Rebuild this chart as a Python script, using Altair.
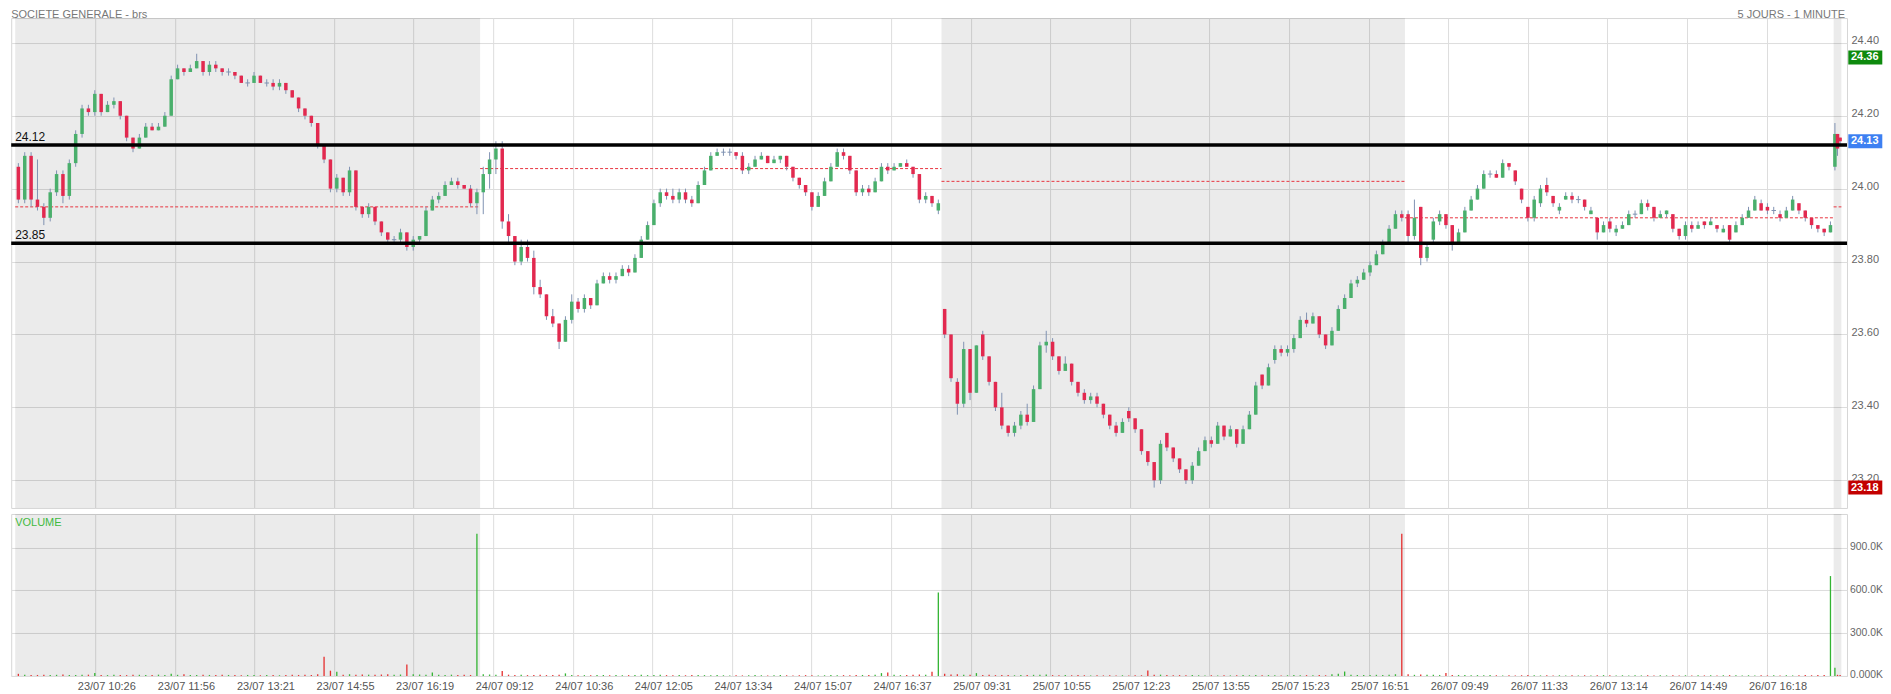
import altair as alt
import pandas as pd

FONT = "Liberation Sans"
TITLE_LEFT = "SOCIETE GENERALE - brs"
TITLE_RIGHT = "5 JOURS - 1 MINUTE"

# sessions, in 1-minute bar units (bar index across the 5 sessions)
session_start_bar = [4.4, 518.5, 1028.7, 1541.2, 2015.2]
session_end_bar = [518.5, 1028.7, 1541.2, 2015.2, 2023.8]
session_shaded = [True, False, True, False, True]
session_ref_price = [23.95, 24.055, 24.02, 23.92, 23.95]

# ---- 23/07 ----
d23_open = [24.06, 23.97, 24.09, 23.97, 23.95, 23.92, 23.99, 24.04, 23.98, 24.07,
            24.15, 24.22, 24.21, 24.26, 24.21, 24.23, 24.24, 24.20, 24.14, 24.11,
            24.14, 24.17, 24.16, 24.17, 24.20, 24.30, 24.33, 24.32, 24.33, 24.35,
            24.32, 24.34, 24.33, 24.32, 24.32, 24.31, 24.29, 24.29, 24.31, 24.29,
            24.29, 24.28, 24.29, 24.27, 24.25, 24.22, 24.20, 24.18, 24.12, 24.08,
            24.00, 24.03, 23.99, 24.05, 23.95, 23.93, 23.95, 23.91, 23.88, 23.86,
            23.86, 23.88, 23.84, 23.86, 23.87, 23.94, 23.97, 23.98, 24.01, 24.02,
            24.01, 24.00, 23.96]
d23_high = [24.07, 24.10, 24.10, 24.08, 23.96, 24.00, 24.05, 24.05, 24.08, 24.16,
            24.23, 24.23, 24.27, 24.26, 24.24, 24.25, 24.24, 24.20, 24.14, 24.15,
            24.18, 24.18, 24.18, 24.21, 24.31, 24.34, 24.33, 24.34, 24.37, 24.35,
            24.35, 24.35, 24.33, 24.33, 24.32, 24.31, 24.30, 24.32, 24.31, 24.30,
            24.30, 24.30, 24.29, 24.27, 24.25, 24.22, 24.20, 24.18, 24.12, 24.08,
            24.04, 24.03, 24.06, 24.05, 23.95, 23.96, 23.95, 23.91, 23.88, 23.87,
            23.89, 23.88, 23.87, 23.87, 23.95, 23.98, 23.99, 24.02, 24.03, 24.03,
            24.01, 24.01, 24.00]
d23_low = [23.96, 23.96, 23.95, 23.94, 23.90, 23.91, 23.98, 23.96, 23.97, 24.06,
           24.14, 24.20, 24.20, 24.20, 24.21, 24.22, 24.19, 24.13, 24.10, 24.11,
           24.14, 24.16, 24.16, 24.17, 24.20, 24.30, 24.31, 24.32, 24.33, 24.31,
           24.31, 24.32, 24.31, 24.31, 24.30, 24.29, 24.28, 24.29, 24.29, 24.28,
           24.27, 24.27, 24.26, 24.25, 24.21, 24.19, 24.17, 24.11, 24.07, 23.99,
           23.99, 23.98, 23.98, 23.94, 23.92, 23.92, 23.90, 23.87, 23.85, 23.85,
           23.85, 23.83, 23.83, 23.85, 23.87, 23.94, 23.96, 23.98, 24.01, 24.00,
           24.00, 23.95, 23.93]
d23_close = [23.97, 24.09, 23.97, 23.95, 23.92, 23.99, 24.04, 23.98, 24.07, 24.15,
             24.22, 24.21, 24.26, 24.21, 24.23, 24.24, 24.20, 24.14, 24.11, 24.14,
             24.17, 24.16, 24.17, 24.20, 24.30, 24.33, 24.32, 24.33, 24.35, 24.32,
             24.34, 24.33, 24.32, 24.32, 24.31, 24.29, 24.29, 24.31, 24.29, 24.29,
             24.28, 24.29, 24.27, 24.25, 24.22, 24.20, 24.18, 24.12, 24.08, 24.00,
             24.03, 23.99, 24.05, 23.95, 23.93, 23.95, 23.91, 23.88, 23.86, 23.86,
             23.88, 23.84, 23.86, 23.87, 23.94, 23.97, 23.98, 24.01, 24.02, 24.01,
             24.00, 23.96, 23.99]
d23_vol_k = [15, 8, 6, 7, 9, 6, 8, 10, 7, 6,
             8, 9, 20, 7, 6, 8, 7, 6, 9, 8,
             7, 6, 9, 7, 15, 8, 12, 7, 6, 8,
             7, 6, 8, 7, 6, 5, 7, 6, 5, 6,
             7, 5, 6, 8, 7, 9, 6, 12, 135, 37,
             30, 9, 12, 8, 10, 9, 8, 10, 12, 9,
             10, 80, 12, 10, 9, 25, 8, 7, 9, 6,
             8, 7, 997]

# ---- 24/07 ----
d24_open = [23.99, 24.04, 24.08, 24.11, 23.91, 23.87, 23.80, 23.84, 23.81, 23.73,
            23.71, 23.65, 23.63, 23.58, 23.64, 23.69, 23.67, 23.70, 23.68, 23.74,
            23.76, 23.75, 23.76, 23.78, 23.77, 23.81, 23.86, 23.90, 23.96, 23.99,
            23.98, 23.97, 23.99, 23.97, 23.96, 24.01, 24.05, 24.09, 24.10, 24.10,
            24.10, 24.09, 24.05, 24.06, 24.08, 24.09, 24.07, 24.08, 24.09, 24.06,
            24.03, 24.01, 23.99, 23.95, 23.98, 24.02, 24.06, 24.10, 24.09, 24.05,
            23.99, 24.00, 23.99, 24.02, 24.06, 24.05, 24.06, 24.07, 24.06, 24.04,
            23.97, 23.98, 23.94]
d24_high = [24.06, 24.10, 24.13, 24.13, 23.93, 23.87, 23.86, 23.86, 23.83, 23.75,
            23.71, 23.67, 23.63, 23.65, 23.71, 23.70, 23.71, 23.70, 23.75, 23.77,
            23.77, 23.77, 23.79, 23.79, 23.82, 23.87, 23.91, 23.97, 24.00, 24.00,
            24.00, 24.00, 24.00, 23.98, 24.02, 24.06, 24.10, 24.11, 24.11, 24.11,
            24.10, 24.10, 24.07, 24.09, 24.10, 24.09, 24.09, 24.09, 24.09, 24.06,
            24.03, 24.01, 23.99, 23.99, 24.03, 24.07, 24.11, 24.11, 24.09, 24.05,
            24.01, 24.01, 24.03, 24.07, 24.07, 24.07, 24.07, 24.08, 24.06, 24.04,
            23.99, 23.98, 23.97]
d24_low = [23.93, 24.00, 24.04, 23.89, 23.85, 23.79, 23.79, 23.80, 23.71, 23.70,
           23.64, 23.62, 23.56, 23.58, 23.63, 23.66, 23.66, 23.67, 23.68, 23.74,
           23.74, 23.74, 23.76, 23.76, 23.77, 23.81, 23.86, 23.90, 23.95, 23.97,
           23.96, 23.96, 23.96, 23.95, 23.96, 24.01, 24.05, 24.09, 24.09, 24.09,
           24.08, 24.04, 24.04, 24.06, 24.08, 24.07, 24.07, 24.07, 24.05, 24.02,
           24.00, 23.98, 23.94, 23.95, 23.98, 24.02, 24.06, 24.08, 24.04, 23.98,
           23.98, 23.98, 23.99, 24.02, 24.04, 24.05, 24.06, 24.06, 24.03, 23.96,
           23.96, 23.95, 23.93]
d24_close = [24.04, 24.08, 24.11, 23.91, 23.87, 23.80, 23.84, 23.81, 23.73, 23.71,
             23.65, 23.63, 23.58, 23.64, 23.69, 23.67, 23.70, 23.68, 23.74, 23.76,
             23.75, 23.76, 23.78, 23.77, 23.81, 23.86, 23.90, 23.96, 23.99, 23.98,
             23.97, 23.99, 23.97, 23.96, 24.01, 24.05, 24.09, 24.10, 24.10, 24.10,
             24.09, 24.05, 24.06, 24.08, 24.09, 24.07, 24.08, 24.09, 24.06, 24.03,
             24.01, 23.99, 23.95, 23.98, 24.02, 24.06, 24.10, 24.09, 24.05, 23.99,
             24.00, 23.99, 24.02, 24.06, 24.05, 24.06, 24.07, 24.06, 24.04, 23.97,
             23.98, 23.96, 23.96]
d24_vol_k = [12, 10, 8, 35, 9, 7, 8, 6, 7, 8,
             6, 7, 8, 18, 7, 5, 6, 5, 6, 7,
             5, 6, 5, 6, 7, 8, 6, 7, 9, 6,
             5, 6, 5, 6, 7, 6, 5, 6, 5, 4,
             5, 4, 5, 6, 5, 4, 5, 6, 5, 4,
             5, 6, 5, 4, 5, 6, 5, 6, 5, 6,
             7, 6, 8, 20, 25, 8, 6, 7, 9, 10,
             8, 30, 585]

# ---- 25/07 ----
d25_open = [23.67, 23.60, 23.47, 23.41, 23.56, 23.44, 23.60, 23.54, 23.47, 23.40,
            23.35, 23.33, 23.35, 23.38, 23.36, 23.45, 23.57, 23.58, 23.54, 23.50,
            23.52, 23.47, 23.44, 23.42, 23.43, 23.41, 23.38, 23.35, 23.33, 23.39,
            23.37, 23.34, 23.28, 23.25, 23.20, 23.33, 23.29, 23.26, 23.23, 23.20,
            23.24, 23.28, 23.31, 23.30, 23.35, 23.32, 23.34, 23.30, 23.34, 23.38,
            23.49, 23.46, 23.53, 23.56, 23.55, 23.56, 23.59, 23.64, 23.63, 23.65,
            23.60, 23.57, 23.61, 23.67, 23.70, 23.74, 23.75, 23.77, 23.79, 23.82,
            23.85, 23.89, 23.93]
d25_high = [23.67, 23.60, 23.48, 23.58, 23.56, 23.57, 23.61, 23.54, 23.47, 23.44,
            23.35, 23.36, 23.39, 23.41, 23.46, 23.58, 23.61, 23.59, 23.54, 23.54,
            23.52, 23.47, 23.45, 23.44, 23.44, 23.41, 23.38, 23.36, 23.37, 23.40,
            23.37, 23.34, 23.28, 23.25, 23.31, 23.33, 23.29, 23.26, 23.23, 23.25,
            23.29, 23.32, 23.32, 23.36, 23.35, 23.35, 23.34, 23.35, 23.39, 23.47,
            23.49, 23.52, 23.57, 23.57, 23.57, 23.60, 23.65, 23.66, 23.66, 23.65,
            23.60, 23.62, 23.68, 23.71, 23.75, 23.76, 23.78, 23.80, 23.83, 23.86,
            23.90, 23.94, 23.94]
d25_low = [23.59, 23.47, 23.38, 23.40, 23.42, 23.44, 23.53, 23.46, 23.39, 23.34,
           23.32, 23.32, 23.34, 23.35, 23.36, 23.45, 23.55, 23.53, 23.49, 23.50,
           23.46, 23.43, 23.41, 23.41, 23.40, 23.37, 23.34, 23.32, 23.33, 23.36,
           23.33, 23.27, 23.24, 23.18, 23.19, 23.28, 23.25, 23.22, 23.19, 23.19,
           23.24, 23.28, 23.29, 23.30, 23.31, 23.32, 23.29, 23.30, 23.34, 23.38,
           23.45, 23.46, 23.52, 23.54, 23.54, 23.55, 23.59, 23.62, 23.63, 23.59,
           23.56, 23.57, 23.61, 23.67, 23.70, 23.73, 23.75, 23.76, 23.79, 23.82,
           23.85, 23.89, 23.91]
d25_close = [23.60, 23.48, 23.41, 23.56, 23.44, 23.57, 23.54, 23.47, 23.40, 23.35,
             23.33, 23.35, 23.38, 23.36, 23.45, 23.57, 23.58, 23.54, 23.50, 23.52,
             23.47, 23.44, 23.42, 23.43, 23.41, 23.38, 23.35, 23.33, 23.36, 23.37,
             23.34, 23.28, 23.25, 23.20, 23.30, 23.29, 23.26, 23.23, 23.20, 23.24,
             23.28, 23.31, 23.30, 23.35, 23.32, 23.34, 23.30, 23.34, 23.38, 23.46,
             23.46, 23.51, 23.56, 23.55, 23.56, 23.59, 23.64, 23.63, 23.65, 23.60,
             23.57, 23.61, 23.67, 23.70, 23.74, 23.75, 23.77, 23.79, 23.82, 23.85,
             23.89, 23.93, 23.92]
d25_vol_k = [15, 10, 12, 9, 8, 20, 7, 8, 6, 7,
             6, 5, 7, 6, 8, 9, 10, 6, 5, 6,
             5, 6, 5, 4, 5, 4, 5, 4, 5, 4,
             5, 5, 38, 8, 9, 6, 5, 6, 5, 6,
             5, 4, 5, 4, 5, 4, 5, 6, 5, 6,
             5, 6, 5, 4, 5, 6, 5, 6, 5, 6,
             5, 12, 15, 31, 8, 6, 7, 6, 8, 7,
             9, 12, 997]

# ---- 26/07 ----
d26_open = [23.93, 23.87, 23.95, 23.81, 23.86, 23.91, 23.93, 23.90, 23.85, 23.88,
            23.94, 23.97, 24.00, 24.04, 24.04, 24.03, 24.07, 24.05, 24.00, 23.95,
            23.92, 23.96, 24.01, 23.98, 23.94, 23.97, 23.98, 23.97, 23.97, 23.93,
            23.92, 23.88, 23.91, 23.88, 23.89, 23.90, 23.93, 23.93, 23.96, 23.95,
            23.92, 23.93, 23.93, 23.89, 23.87, 23.90, 23.89, 23.91, 23.90, 23.90,
            23.88, 23.90, 23.88, 23.90, 23.92, 23.94, 23.96, 23.95, 23.94, 23.93,
            23.92, 23.94, 23.96, 23.94, 23.92, 23.90, 23.89, 23.88]
d26_high = [23.94, 23.97, 23.95, 23.85, 23.92, 23.94, 23.93, 23.90, 23.89, 23.95,
            23.98, 24.01, 24.05, 24.05, 24.05, 24.08, 24.07, 24.05, 24.00, 23.95,
            23.98, 24.01, 24.03, 23.98, 23.96, 23.99, 23.99, 23.98, 23.97, 23.95,
            23.92, 23.91, 23.92, 23.90, 23.91, 23.94, 23.94, 23.97, 23.97, 23.95,
            23.94, 23.94, 23.93, 23.89, 23.91, 23.91, 23.91, 23.91, 23.92, 23.90,
            23.90, 23.90, 23.91, 23.93, 23.95, 23.98, 23.97, 23.96, 23.95, 23.94,
            23.95, 23.98, 23.96, 23.94, 23.92, 23.90, 23.89, 23.91]
d26_low = [23.85, 23.86, 23.79, 23.80, 23.85, 23.90, 23.89, 23.83, 23.85, 23.88,
           23.94, 23.97, 24.00, 24.03, 24.03, 24.03, 24.05, 24.01, 23.96, 23.91,
           23.91, 23.95, 23.98, 23.95, 23.93, 23.97, 23.96, 23.96, 23.94, 23.93,
           23.86, 23.88, 23.88, 23.87, 23.89, 23.90, 23.92, 23.93, 23.94, 23.91,
           23.92, 23.92, 23.88, 23.86, 23.86, 23.88, 23.89, 23.89, 23.90, 23.88,
           23.88, 23.85, 23.88, 23.90, 23.92, 23.94, 23.94, 23.93, 23.93, 23.91,
           23.92, 23.94, 23.93, 23.91, 23.89, 23.88, 23.87, 23.88]
d26_close = [23.87, 23.92, 23.81, 23.84, 23.91, 23.93, 23.90, 23.85, 23.88, 23.94,
             23.97, 24.00, 24.04, 24.04, 24.03, 24.07, 24.06, 24.02, 23.97, 23.92,
             23.97, 24.00, 23.99, 23.96, 23.95, 23.98, 23.97, 23.97, 23.95, 23.94,
             23.88, 23.90, 23.89, 23.89, 23.90, 23.93, 23.93, 23.96, 23.95, 23.92,
             23.93, 23.94, 23.89, 23.87, 23.90, 23.89, 23.90, 23.90, 23.91, 23.89,
             23.89, 23.86, 23.90, 23.92, 23.94, 23.97, 23.94, 23.94, 23.94, 23.92,
             23.94, 23.97, 23.94, 23.92, 23.90, 23.89, 23.88, 23.90]
d26_vol_k = [12, 8, 10, 9, 8, 7, 20, 6, 7, 6,
             5, 6, 5, 6, 5, 4, 5, 4, 5, 6,
             5, 4, 5, 4, 5, 4, 5, 4, 5, 4,
             5, 6, 5, 4, 5, 4, 5, 4, 5, 4,
             5, 4, 5, 4, 5, 4, 5, 4, 5, 4,
             5, 6, 5, 4, 5, 4, 5, 4, 5, 4,
             5, 4, 5, 6, 5, 6, 7, 700]

# ---- 27/07 (first minutes) ----
d27_open = [24.06, 24.15, 24.14]
d27_high = [24.18, 24.15, 24.14]
d27_low = [24.05, 24.09, 24.12]
d27_close = [24.15, 24.11, 24.13]
d27_vol_k = [58, 8, 6]

# horizontal levels and price badges
level_prices = [24.12, 23.85]
level_labels = ["24.12", "23.85"]
badge_prices = [24.36, 24.13, 23.18]
badge_labels = ["24.36", "24.13", "23.18"]
badge_colors = ["#0e8a0e", "#3d80f2", "#c30000"]

price_ticks = [23.2, 23.4, 23.6, 23.8, 24.0, 24.2, 24.4]
vol_ticks = [0, 300000, 600000, 900000]
x_tick_bars = [93, 181, 269, 357, 445, 533, 621, 709, 797, 885, 973,
               1061, 1149, 1237, 1325, 1413, 1501, 1589, 1677, 1765, 1853, 1941]
x_tick_labels = ["23/07 10:26", "23/07 11:56", "23/07 13:21", "23/07 14:55", "23/07 16:19",
                 "24/07 09:12", "24/07 10:36", "24/07 12:05", "24/07 13:34", "24/07 15:07",
                 "24/07 16:37", "25/07 09:31", "25/07 10:55", "25/07 12:23", "25/07 13:55",
                 "25/07 15:23", "25/07 16:51", "26/07 09:49", "26/07 11:33", "26/07 13:14",
                 "26/07 14:49", "26/07 16:18"]

# ---------------- styling ----------------
W = 1836
H_PRICE = 490
H_VOL = 162
X_DOMAIN = [0, 2030]
PRICE_DOMAIN = [23.124, 24.468]
VOL_DOMAIN = [0, 1135000]
GREEN = "#4aaf6c"
RED = "#e2294f"
WICK = "#7f92b2"
VOL_GREEN = "#33b433"
VOL_RED = "#e52e2e"
GRID = "#dddddd"
BADGE_W = 34

days = [
    (d23_open, d23_high, d23_low, d23_close, d23_vol_k),
    (d24_open, d24_high, d24_low, d24_close, d24_vol_k),
    (d25_open, d25_high, d25_low, d25_close, d25_vol_k),
    (d26_open, d26_high, d26_low, d26_close, d26_vol_k),
    (d27_open, d27_high, d27_low, d27_close, d27_vol_k),
]
rows = []
for d, (o, h, l, c, v) in enumerate(days):
    n = min(len(o), len(h), len(l), len(c), len(v))
    s, e = session_start_bar[d], session_end_bar[d]
    step = (e - s) / n
    for j in range(n):
        diff = round(c[j] - o[j], 4)
        dr = "up" if diff > 0 else ("down" if diff < 0 else "flat")
        rows.append({
            "bar": s + (j + 0.5) * step,
            "open": o[j], "high": h[j], "low": l[j], "close": c[j],
            "vol": v[j] * 1000, "dir": dr,
            "body_color": GREEN if dr == "up" else RED,
            "vol_color": VOL_RED if dr == "down" else VOL_GREEN,
        })
candles = pd.DataFrame(rows)

sessions = pd.DataFrame({"start": session_start_bar, "end": session_end_bar,
                         "shaded": session_shaded, "ref": session_ref_price})
shaded = sessions[sessions["shaded"]]
levels_df = pd.DataFrame({"price": level_prices, "label": level_labels})
badges_df = pd.DataFrame({"price": badge_prices, "label": badge_labels, "color": badge_colors})

xscale = alt.Scale(domain=X_DOMAIN, nice=False, zero=False, padding=0)
pscale = alt.Scale(domain=PRICE_DOMAIN, nice=False, zero=False, padding=0)
vscale = alt.Scale(domain=VOL_DOMAIN, nice=False, zero=True, padding=0)

x_axis_price = alt.Axis(values=x_tick_bars, labels=False, ticks=False, tickSize=0, domain=False,
                        grid=True, gridColor=GRID, title=None)
label_expr = ("[" + ",".join("'" + t + "'" for t in x_tick_labels) + "][indexof(["
              + ",".join(str(b) for b in x_tick_bars) + "], datum.value)]")
x_axis_vol = alt.Axis(values=x_tick_bars, labelExpr=label_expr, ticks=False, tickSize=0,
                      domain=False, grid=True, gridColor=GRID, title=None, labelPadding=5,
                      labelOffset=11, labelFont=FONT, labelFontSize=11, labelColor="#555555",
                      labelAngle=0, labelOverlap=False, labelFlush=False)
y_axis_price = alt.Axis(orient="right", values=price_ticks, format=".2f", title=None, grid=True,
                        gridColor=GRID, ticks=False, tickSize=0, domain=False, labelPadding=4,
                        labelOffset=-2, labelColor="#666666", labelFont=FONT, labelFontSize=11)
y_axis_vol = alt.Axis(orient="right", values=vol_ticks, title=None, grid=True, gridColor=GRID,
                      ticks=False, tickSize=0, domain=False, labelPadding=2.5, labelOffset=-1,
                      labelColor="#666666", labelFont=FONT, labelFontSize=10.4,
                      labelExpr="datum.value == 0 ? '0.000K' : format(datum.value / 1000, '.1f') + 'K'")


def px(field):
    return alt.X(field, type="quantitative", scale=xscale, axis=x_axis_price)


def py(field):
    return alt.Y(field, type="quantitative", scale=pscale, axis=y_axis_price)


shade_p = alt.Chart(shaded).mark_rect(color="#000000", opacity=0.078).encode(
    x=px("start"), x2="end", y=alt.value(0), y2=alt.value(H_PRICE))
refs = alt.Chart(sessions).mark_rule(color="#e8343f", strokeDash=[3, 2], strokeWidth=1).encode(
    x=px("start"), x2="end", y=py("ref"))
wicks = alt.Chart(candles).mark_rule(color=WICK, strokeWidth=1).encode(
    x=px("bar"), y=py("low"), y2="high")
bodies = alt.Chart(candles).transform_filter("datum.dir != 'flat'").mark_bar(size=3.5).encode(
    x=px("bar"), y=py("open"), y2="close", color=alt.Color("body_color:N", scale=None))
dojis = alt.Chart(candles).transform_filter("datum.dir == 'flat'").mark_tick(
    orient="horizontal", size=4.5, thickness=1, color=WICK, opacity=1).encode(
    x=px("bar"), y=py("close"))
level_lines = alt.Chart(levels_df).mark_tick(orient="horizontal", size=W, thickness=3.5,
                                             color="#000000", opacity=1).encode(
    x=alt.value(W / 2), y=py("price"))
level_text = alt.Chart(levels_df).mark_text(align="left", baseline="alphabetic", dy=-4, fontSize=12,
                                            font=FONT, color="#111111").encode(
    x=alt.value(4), y=py("price"), text="label:N")
badge_box = alt.Chart(badges_df).mark_tick(orient="horizontal", size=BADGE_W, thickness=14,
                                           opacity=1).encode(
    x=alt.value(W + 1.3 + BADGE_W / 2), y=py("price"), color=alt.Color("color:N", scale=None))
badge_text = alt.Chart(badges_df).mark_text(align="left", baseline="middle", font=FONT, fontSize=11,
                                            fontWeight="bold", color="#ffffff").encode(
    x=alt.value(W + 4), y=py("price"), text="label:N")
title_l = alt.Chart(pd.DataFrame({"t": [TITLE_LEFT]})).mark_text(
    align="left", baseline="top", font=FONT, fontSize=11, color="#777777").encode(
    x=alt.value(0), y=alt.value(-9), text="t:N")
title_r = alt.Chart(pd.DataFrame({"t": [TITLE_RIGHT]})).mark_text(
    align="right", baseline="top", font=FONT, fontSize=11, color="#777777").encode(
    x=alt.value(W - 2), y=alt.value(-9), text="t:N")

price = alt.layer(shade_p, refs, wicks, bodies, dojis, level_lines, level_text,
                  badge_box, badge_text, title_l, title_r).properties(width=W, height=H_PRICE)


def vx(field):
    return alt.X(field, type="quantitative", scale=xscale, axis=x_axis_vol)


shade_v = alt.Chart(shaded).mark_rect(color="#000000", opacity=0.078).encode(
    x=vx("start"), x2="end", y=alt.value(0), y2=alt.value(H_VOL))
vol_bars = alt.Chart(candles).mark_bar(size=1.3).encode(
    x=vx("bar"), y=alt.Y("vol:Q", scale=vscale, axis=y_axis_vol),
    color=alt.Color("vol_color:N", scale=None))
vol_title = alt.Chart(pd.DataFrame({"t": ["VOLUME"]})).mark_text(
    align="left", baseline="middle", font=FONT, fontSize=11, color="#3fba3f").encode(
    x=alt.value(4), y=alt.value(9), text="t:N")

volume = alt.layer(shade_v, vol_bars, vol_title).properties(width=W, height=H_VOL)

chart = alt.vconcat(price, volume, spacing=4).properties(
    padding={"left": 2.2, "top": 0, "right": 0, "bottom": 0}
).configure_view(stroke="#d6d6d6", strokeWidth=1)

chart.save("out.html", embed_options={"renderer": "svg", "actions": False})
